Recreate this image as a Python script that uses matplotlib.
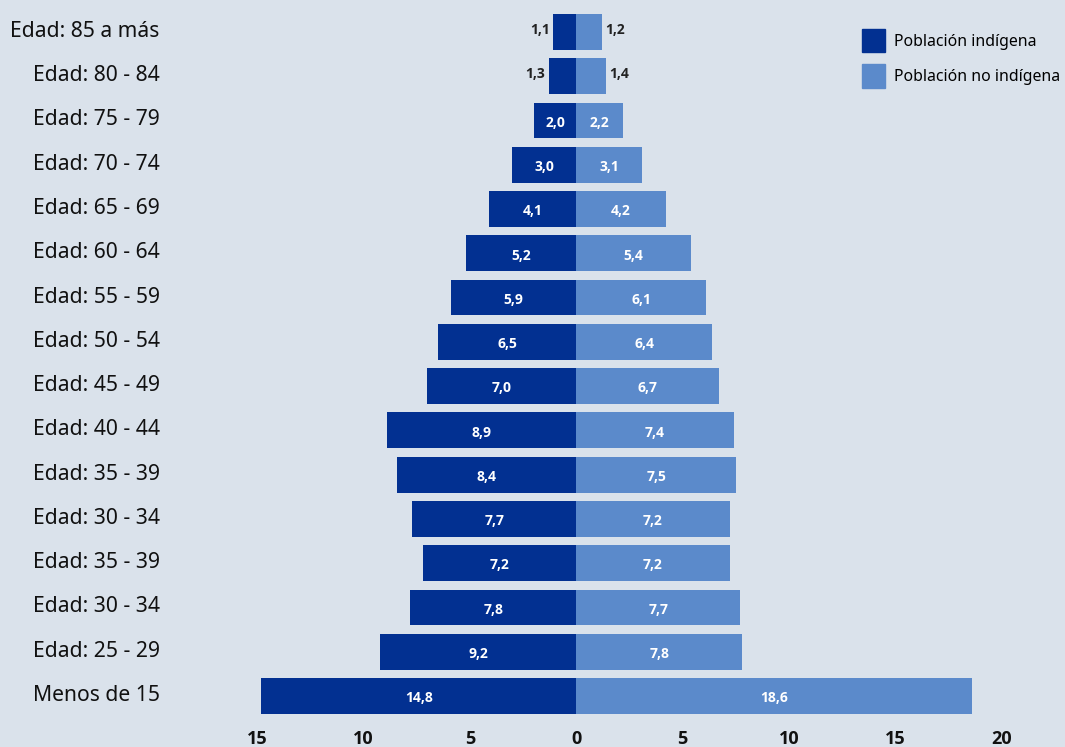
import matplotlib.pyplot as plt
import matplotlib.transforms as mtransforms
from matplotlib.patches import Patch

plt.rcParams['font.family'] = ['Noto Sans', 'DejaVu Sans']
bold_font = ['Open Sans', 'DejaVu Sans']

# age groups listed from top to bottom of the pyramid
grupos = ['Edad: 85 a más', 'Edad: 80 - 84', 'Edad: 75 - 79', 'Edad: 70 - 74',
          'Edad: 65 - 69', 'Edad: 60 - 64', 'Edad: 55 - 59', 'Edad: 50 - 54',
          'Edad: 45 - 49', 'Edad: 40 - 44', 'Edad: 35 - 39', 'Edad: 30 - 34',
          'Edad: 35 - 39', 'Edad: 30 - 34', 'Edad: 25 - 29', 'Menos de 15']
indigena = [1.1, 1.3, 2.0, 3.0, 4.1, 5.2, 5.9, 6.5, 7.0, 8.9, 8.4, 7.7, 7.2, 7.8, 9.2, 14.8]
no_indigena = [1.2, 1.4, 2.2, 3.1, 4.2, 5.4, 6.1, 6.4, 6.7, 7.4, 7.5, 7.2, 7.2, 7.7, 7.8, 18.6]
ticks = [-15, -10, -5, 0, 5, 10, 15, 20]

c_ind = '#023091'
c_no = '#5b8acb'
bg = '#dae2eb'

fig = plt.figure(figsize=(10.65, 7.47), dpi=100, facecolor=bg)
ax = fig.add_axes([0.2413, 0.0327, 0.6995, 0.9601])
ax.set_facecolor(bg)

n = len(grupos)
y = [n - 1 - i for i in range(n)]

ax.barh(y, [-v for v in indigena], height=0.81, color=c_ind)
ax.barh(y, no_indigena, height=0.81, color=c_no)

# value labels: inside the bar in white, outside in dark for the smallest ones
def etiqueta(x, yi, v, ha, color):
    ax.text(x, yi, f'{v:.1f}'.replace('.', ','), ha=ha, va='center',
            fontsize=10, fontweight='bold', family=bold_font, color=color)

for yi, v in zip(y, indigena):
    if v < 1.5:
        etiqueta(-v - 0.15, yi + 0.05, v, 'right', '#222222')
    else:
        etiqueta(-v / 2, yi - 0.05, v, 'center', 'white')
for yi, v in zip(y, no_indigena):
    if v < 1.5:
        etiqueta(v + 0.15, yi + 0.05, v, 'left', '#222222')
    else:
        etiqueta(v / 2, yi - 0.05, v, 'center', 'white')

ax.set_xlim(-15, 20)
ax.set_ylim(-0.6, n - 0.4)
ax.set_xticks(ticks)
ax.set_xticklabels([str(abs(t)) for t in ticks], fontsize=13, fontweight='bold',
                   family=bold_font, color='#111111')
ax.set_yticks(y)
ax.set_yticklabels(grupos, fontsize=15.2, color='#111111')
ax.tick_params(axis='x', length=0, pad=5)
ax.tick_params(axis='y', length=0, pad=70)

# nudge the category names up a little
shift = mtransforms.ScaledTranslation(0, 3 / 100, fig.dpi_scale_trans)
for lab in ax.get_yticklabels():
    lab.set_transform(lab.get_transform() + shift)

for s in ax.spines.values():
    s.set_visible(False)

handles = [Patch(color=c_ind), Patch(color=c_no)]
ax.legend(handles, ['Población indígena', 'Población no indígena'],
          loc='upper left', bbox_to_anchor=(862 / 1065, 1 - 29 / 747),
          bbox_transform=fig.transFigure, frameon=False, fontsize=11.4,
          handlelength=1.45, handleheight=1.87, handletextpad=0.6,
          labelspacing=0.78, borderpad=0, borderaxespad=0)

fig.savefig('out.png', dpi=100, facecolor=bg)
